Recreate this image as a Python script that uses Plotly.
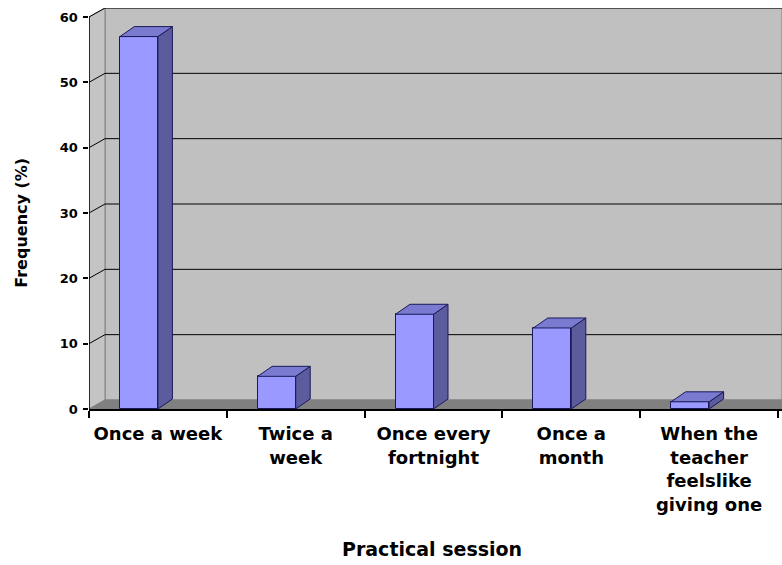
import plotly.graph_objects as go

categories = ["Once a week", "Twice a<br>week", "Once every<br>fortnight", "Once a<br>month",
              "When the<br>teacher<br>feelslike<br>giving one"]
values = [57, 5, 14.5, 12.4, 1.1]
y_ticks = [0, 10, 20, 30, 40, 50, 60]

# geometry (in axis units)
PX_X = 137.8          # px per category
PX_Y = 6.54           # px per percent
BAR_W = 38 / PX_X
BDX, BDY = 14.5 / PX_X, 10 / PX_Y      # bar depth
WDX, WDY = 16 / PX_X, 9 / PX_Y         # wall depth
YMAX = 60
XMIN = -0.5
XMAX = -0.5 + 693 / PX_X
YTOP = YMAX + WDY

FRONT = "#9999ff"
SIDE = "#5b5b9e"
TOP = "#7a7ad0"
EDGE = "#1a1a5a"

fig = go.Figure()

idx = list(range(len(categories)))

# front faces
fig.add_trace(go.Bar(x=idx, y=values, width=BAR_W, offset=-BAR_W,
                     marker=dict(color=FRONT, line=dict(color=EDGE, width=1)),
                     hoverinfo="skip", showlegend=False))

# side & top faces
sx, sy, tx, ty = [], [], [], []
for i, v in zip(idx, values):
    xl, xr = i - BAR_W, i
    sx += [xr, xr + BDX, xr + BDX, xr, xr, None]
    sy += [0, BDY, v + BDY, v, 0, None]
    tx += [xl, xr, xr + BDX, xl + BDX, xl, None]
    ty += [v, v, v + BDY, v + BDY, v, None]
fig.add_trace(go.Scatter(x=sx, y=sy, mode="lines", fill="toself", fillcolor=SIDE,
                         line=dict(color=EDGE, width=1), hoverinfo="skip", showlegend=False))
fig.add_trace(go.Scatter(x=tx, y=ty, mode="lines", fill="toself", fillcolor=TOP,
                         line=dict(color=EDGE, width=1), hoverinfo="skip", showlegend=False))

shapes = []
# back wall
shapes.append(dict(type="path", xref="x", yref="y", layer="below",
                   path=f"M{XMIN+WDX},{WDY} L{XMAX},{WDY} L{XMAX},{YTOP} L{XMIN+WDX},{YTOP} Z",
                   fillcolor="#c0c0c0", line=dict(color="#808080", width=1)))
# side wall
shapes.append(dict(type="path", xref="x", yref="y", layer="below",
                   path=f"M{XMIN},0 L{XMIN+WDX},{WDY} L{XMIN+WDX},{YTOP} L{XMIN},{YMAX} Z",
                   fillcolor="#c4c4c4", line=dict(color="#808080", width=1)))
# floor
shapes.append(dict(type="path", xref="x", yref="y", layer="below",
                   path=f"M{XMIN},0 L{XMAX},0 L{XMAX},{WDY} L{XMIN+WDX},{WDY} Z",
                   fillcolor="#808080", line=dict(color="#808080", width=1)))
# gridlines
for t in y_ticks[1:]:
    shapes.append(dict(type="line", xref="x", yref="y", layer="below",
                       x0=XMIN + WDX, x1=XMAX, y0=t + WDY, y1=t + WDY,
                       line=dict(color="black", width=1)))
    shapes.append(dict(type="line", xref="x", yref="y", layer="below",
                       x0=XMIN, x1=XMIN + WDX, y0=t, y1=t + WDY,
                       line=dict(color="black", width=1)))
# y axis line
shapes.append(dict(type="line", xref="x", yref="y", x0=XMIN, x1=XMIN, y0=0, y1=YMAX,
                   line=dict(color="black", width=1.5)))

FONT = "DejaVu Sans"

fig.update_layout(
    width=782, height=565,
    margin=dict(l=89, r=0, t=8, b=156),
    paper_bgcolor="white", plot_bgcolor="white",
    shapes=shapes,
    bargap=0,
    xaxis=dict(range=[XMIN, XMAX], tickmode="array", tickvals=idx, ticktext=categories,
               ticks="outside", ticklen=8, tickcolor="rgba(0,0,0,0)",
               tickfont=dict(family=FONT, size=18, color="black", weight="bold"),
               showline=True, linecolor="black", linewidth=1.5, showgrid=False, zeroline=False,
               minor=dict(tickmode="array", tickvals=[i - 0.5 for i in range(len(categories) + 1)],
                          ticks="outside", ticklen=7, tickcolor="black", tickwidth=1.5, showgrid=False),
               fixedrange=True),
    yaxis=dict(range=[0, YTOP], tickmode="array", tickvals=y_ticks,
               ticktext=[f"{t}\u2009" for t in y_ticks],
               ticks="outside", ticklen=5, tickcolor="black", tickwidth=1.5,
               tickfont=dict(family=FONT, size=13, color="black", weight="bold"),
               showline=False, showgrid=False, zeroline=False, fixedrange=True),
    annotations=[
        dict(text="Frequency (%)", xref="paper", yref="paper", x=-0.097, y=0.464,
             textangle=-90, showarrow=False, xanchor="center", yanchor="middle",
             font=dict(family=FONT, size=16, color="black", weight="bold")),
        dict(text="Practical session", xref="paper", yref="paper", x=0.495, y=-0.349,
             showarrow=False, xanchor="center", yanchor="middle",
             font=dict(family=FONT, size=19, color="black", weight="bold")),
    ],
)

fig.write_html("out.html")
